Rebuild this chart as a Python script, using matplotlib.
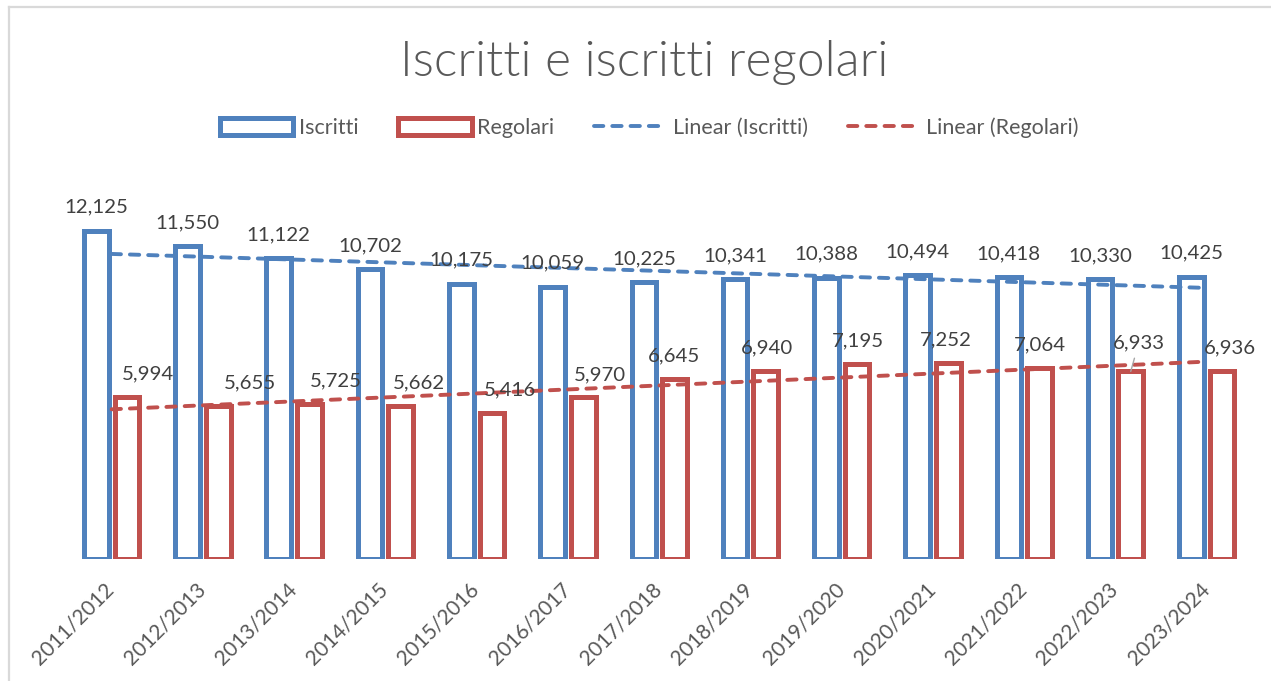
import numpy as np
import matplotlib
matplotlib.use("Agg")
import matplotlib.pyplot as plt
from matplotlib.patches import Patch
from matplotlib.lines import Line2D
from matplotlib.transforms import ScaledTranslation

plt.rcParams['font.family'] = ['Lato', 'DejaVu Sans']

# ---- data ----
categories = ["2011/2012", "2012/2013", "2013/2014", "2014/2015", "2015/2016",
              "2016/2017", "2017/2018", "2018/2019", "2019/2020", "2020/2021",
              "2021/2022", "2022/2023", "2023/2024"]
iscritti = [12125, 11550, 11122, 10702, 10175, 10059, 10225, 10341, 10388,
            10494, 10418, 10330, 10425]
regolari = [5994, 5655, 5725, 5662, 5416, 5970, 6645, 6940, 7195, 7252,
            7064, 6933, 6936]

# label x offsets (pixels) for the red data labels, as placed in the reference
reg_label_dx = [21, 32, 26, 18, 18, 17, 0, 1, 1, -2, 0, 8, 8]
reg_label_dy = [17.5] * 13
reg_label_dy[11] = 23

BLUE = '#4F81BD'
RED = '#C0504D'
TXT = '#595959'
LBL = '#404040'

W, H = 1271, 681
DPI = 100
fig = plt.figure(figsize=(W / DPI, H / DPI), dpi=DPI)
fig.patch.set_facecolor('white')

# chart border (top + left visible)
fig.add_artist(Line2D([8.5 / W, 8.5 / W], [0, 1 - 6.5 / H], color='#D9D9D9', lw=1.6,
                      transform=fig.transFigure))
fig.add_artist(Line2D([8.5 / W, 1], [1 - 6.5 / H, 1 - 6.5 / H], color='#D9D9D9', lw=1.6,
                      transform=fig.transFigure))

left, right = 66.0, 1252.3
bottom_px, top_px = 559.2, 180.0
ax = fig.add_axes([left / W, 1 - bottom_px / H, (right - left) / W, (bottom_px - top_px) / H])
ax.set_xlim(-0.5, len(categories) - 0.5)
ax.set_ylim(0, 14000)
for s in ax.spines.values():
    s.set_visible(False)
ax.set_yticks([])

x = np.arange(len(categories))
bw = 0.27
off = 0.168
lw_bar = 3.6
ax.bar(x - off, iscritti, width=bw, facecolor='white', edgecolor=BLUE, linewidth=lw_bar, zorder=2)
ax.bar(x + off, regolari, width=bw, facecolor='white', edgecolor=RED, linewidth=lw_bar, zorder=2)

# linear trendlines
pi = np.polyfit(x, iscritti, 1)
pr = np.polyfit(x, regolari, 1)
dash = (2.4, 2.3)
ax.plot(x, np.polyval(pi, x), color=BLUE, lw=2.8, dashes=dash, dash_capstyle='round', zorder=3)
ax.plot(x, np.polyval(pr, x), color=RED, lw=2.8, dashes=dash, dash_capstyle='round', zorder=3)

px2pt = 72.0 / DPI
fs_lbl = 14.7
for xi, v in zip(x, iscritti):
    ax.annotate(f"{v:,}", (xi - off, v), xytext=(0, 18 * px2pt), textcoords='offset points',
                ha='center', va='baseline', fontsize=fs_lbl, color=LBL, zorder=4)
for i, (xi, v) in enumerate(zip(x, regolari)):
    kw = {}
    if i == 11:
        kw['arrowprops'] = dict(arrowstyle='-', color='#A6A6A6', lw=1.0, shrinkA=3, shrinkB=0)
    ax.annotate(f"{v:,}", (xi + off, v),
                xytext=(reg_label_dx[i] * px2pt, reg_label_dy[i] * px2pt),
                textcoords='offset points', ha='center', va='baseline',
                fontsize=fs_lbl, color=LBL, zorder=4, **kw)

# x tick labels
ax.set_xticks(x)
ax.set_xticklabels(categories, rotation=45, ha='right', va='top', rotation_mode='anchor',
                   fontsize=15, color=TXT)
ax.tick_params(axis='x', length=0, pad=20 * px2pt)
for lab in ax.get_xticklabels():
    lab.set_transform(lab.get_transform() + ScaledTranslation(-7.6 / DPI, 0, fig.dpi_scale_trans))

# title
fig.text(644.5 / W, 1 - 76 / H, "Iscritti e iscritti regolari", ha='center', va='baseline',
         fontsize=35.7, color=TXT, fontweight=300)

# legend
handles = [
    Patch(facecolor='white', edgecolor=BLUE, linewidth=lw_bar, label='Iscritti'),
    Patch(facecolor='white', edgecolor=RED, linewidth=lw_bar, label='Regolari'),
    Line2D([0], [0], color=BLUE, lw=2.8, dashes=dash, dash_capstyle='round', label='Linear (Iscritti)'),
    Line2D([0], [0], color=RED, lw=2.8, dashes=dash, dash_capstyle='round', label='Linear (Regolari)'),
]
fig.legend(handles=handles, loc='center', bbox_to_anchor=(649.5 / W, 1 - 127.5 / H), ncol=4,
           frameon=False, fontsize=15.5, labelcolor=TXT, handlelength=3.4, handleheight=0.8,
           handletextpad=0.25, columnspacing=1.86)

fig.savefig('out.png', dpi=DPI, facecolor='white')
